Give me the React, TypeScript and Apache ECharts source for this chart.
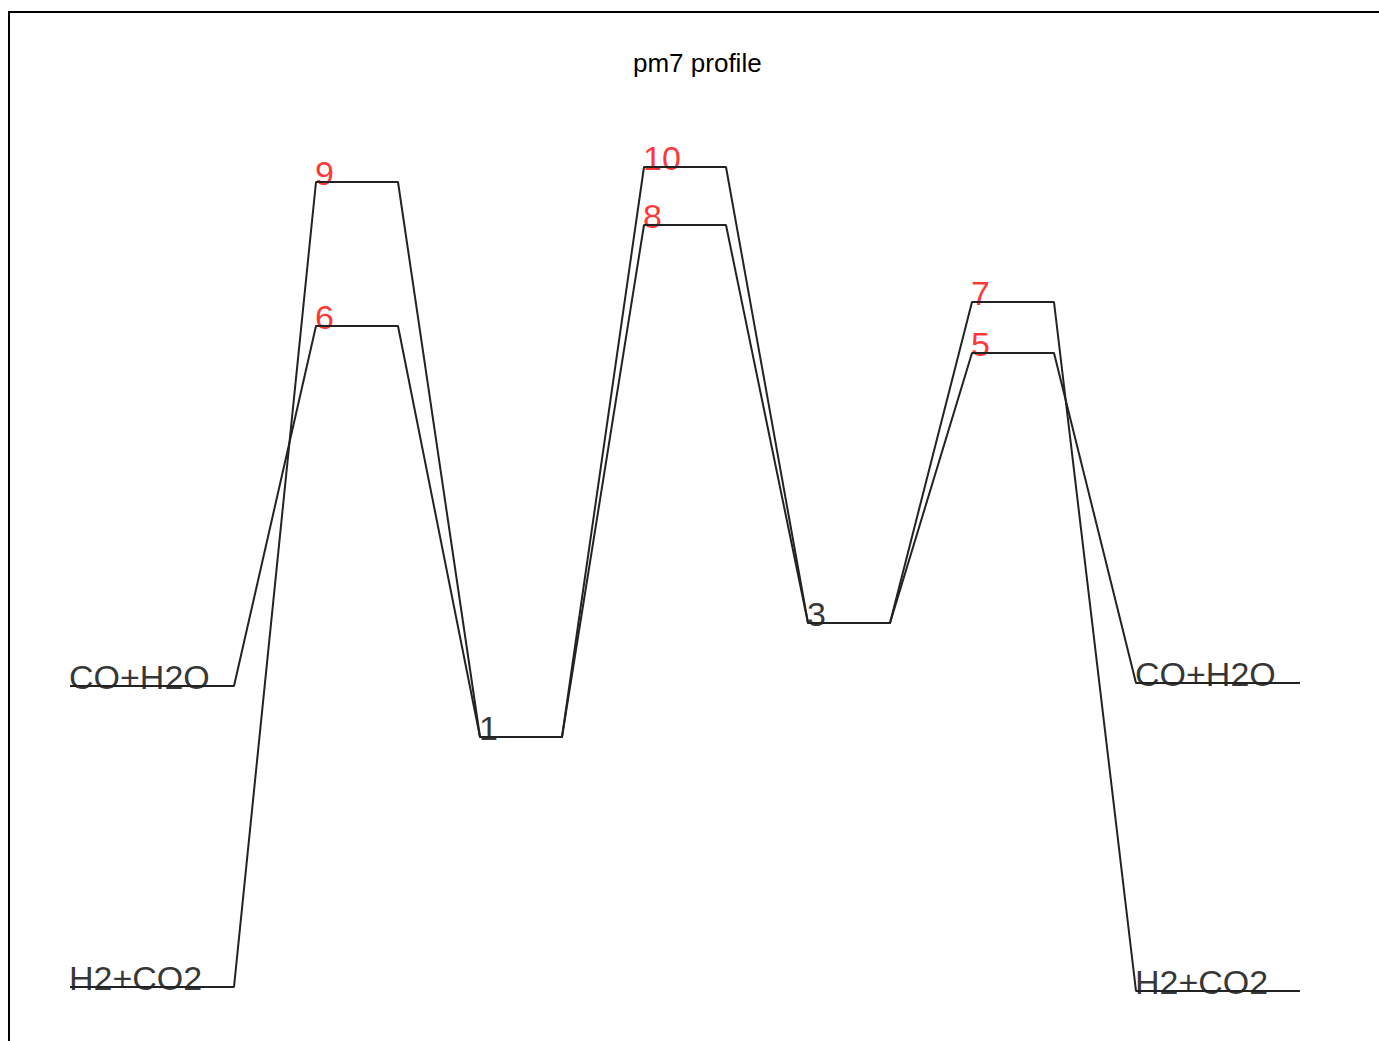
import React, { useEffect, useRef } from "react";
import * as echarts from "echarts";

const titleText = "pm7 profile";
const pathANames = ["CO+H2O", "6", "1", "8", "3", "5", "CO+H2O"];
const pathAEnergies = [0.0, 36.0, -5.1, 46.1, 6.3, 33.3, 0.3];
const pathBNames = ["H2+CO2", "9", "1", "10", "3", "7", "H2+CO2"];
const pathBEnergies = [-30.1, 50.4, -5.1, 51.9, 6.3, 38.4, -30.5];
const transitionStates = ["6", "8", "5", "9", "10", "7"];

const FONT = "'Liberation Sans', Arial, Helvetica, sans-serif";

function levelSpan(i: number, n: number): [number, number] {
  const s = i === 0 ? 0 : 2 * i + 1;
  const e = i === n - 1 ? 2 * i + 3 : 2 * i + 2;
  return [s, e];
}

function pathLine(energies: number[]): number[][] {
  const out: number[][] = [];
  energies.forEach((E, i) => {
    const [s, e] = levelSpan(i, energies.length);
    out.push([s, E], [e, E]);
  });
  return out;
}

function labelPoints() {
  const pts: any[] = [];
  const add = (names: string[], energies: number[], skip: (i: number) => boolean) => {
    names.forEach((nm, i) => {
      if (skip(i)) return;
      const [s] = levelSpan(i, names.length);
      pts.push({
        value: [s, energies[i]],
        name: nm,
        label: { color: transitionStates.includes(nm) ? "#ff0000" : "#000000" },
      });
    });
  };
  add(pathANames, pathAEnergies, () => false);
  add(pathBNames, pathBEnergies, (i) => pathBNames[i] === pathANames[i] && pathBEnergies[i] === pathAEnergies[i]);
  return pts;
}

export default function App() {
  const ref = useRef<HTMLDivElement>(null);
  useEffect(() => {
    if (!ref.current) return;
    const chart = echarts.init(ref.current, undefined, { renderer: "svg" });
    chart.setOption({
      animation: false,
      backgroundColor: "#ffffff",
      title: {
        text: titleText,
        left: 633,
        top: 50,
        padding: 0,
        textStyle: { fontSize: 26, fontWeight: "normal", color: "#000", fontFamily: FONT },
      },
      grid: { left: 70, right: 79, top: 86, bottom: 5 },
      xAxis: { type: "value", min: 0, max: 15, show: false },
      yAxis: { type: "value", min: -35, max: 60, show: false },
      graphic: [
        {
          type: "rect",
          shape: { x: 9, y: 12, width: 1420, height: 1100 },
          style: { fill: "none", stroke: "#000", lineWidth: 2 },
          silent: true,
        },
      ],
      series: [
        {
          type: "line",
          data: pathLine(pathAEnergies),
          symbol: "none",
          lineStyle: { color: "#222222", width: 2 },
          silent: true,
        },
        {
          type: "line",
          data: pathLine(pathBEnergies),
          symbol: "none",
          lineStyle: { color: "#222222", width: 2 },
          silent: true,
        },
        {
          type: "scatter",
          data: labelPoints(),
          symbolSize: 0,
          silent: true,
          label: {
            show: true,
            position: "right",
            distance: 0,
            offset: [-1, -9],
            formatter: (p: any) => p.name,
            fontSize: 34,
            fontFamily: FONT,
          },
        },
      ],
    });
    return () => chart.dispose();
  }, []);
  return (
    <div
      ref={ref}
      style={{ position: "fixed", left: 0, top: 0, width: 1379, height: 1041, background: "#fff" }}
    />
  );
}
